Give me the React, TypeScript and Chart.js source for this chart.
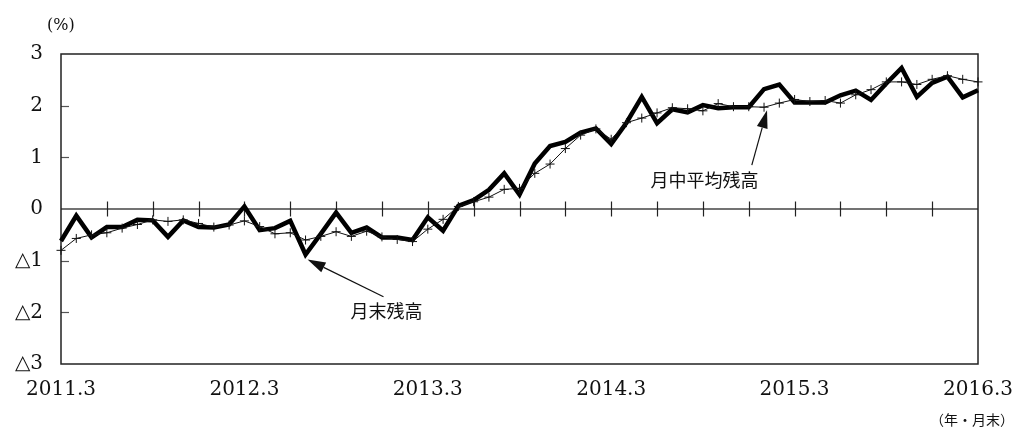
import React, { useEffect, useRef } from "react";
import Chart from "chart.js/auto";

// x categories: month ends from 2011.3 to 2016.3
const startYear = 2011;
const startMonth = 3;
const monthCount = 61;
const categories: string[] = [];
for (let i = 0; i < monthCount; i++) {
  const m = startMonth - 1 + i;
  categories.push(`${startYear + Math.floor(m / 12)}.${(m % 12) + 1}`);
}

const yearTickLabels = ["2011.3", "2012.3", "2013.3", "2014.3", "2015.3", "2016.3"];
const yTickValues = [-3, -2, -1, 0, 1, 2, 3];

// 月末残高 (thick line)
const endBalance = [
  -0.62, -0.13, -0.55, -0.35, -0.35, -0.21, -0.22, -0.54, -0.22, -0.35,
  -0.36, -0.3, 0.05, -0.41, -0.37, -0.23, -0.88, -0.48, -0.07, -0.46,
  -0.36, -0.55, -0.55, -0.6, -0.16, -0.42, 0.06, 0.17, 0.37, 0.69,
  0.28, 0.88, 1.22, 1.3, 1.48, 1.56, 1.26, 1.67, 2.17, 1.66,
  1.93, 1.87, 2.01, 1.95, 1.97, 1.97, 2.32, 2.41, 2.06, 2.06,
  2.06, 2.2, 2.29, 2.11, 2.43, 2.73, 2.17, 2.44, 2.56, 2.16,
  2.3,
];

// 月中平均残高 (thin line with + markers)
const avgBalance = [
  -0.8, -0.57, -0.5, -0.46, -0.37, -0.3, -0.21, -0.24, -0.21, -0.28,
  -0.35, -0.31, -0.23, -0.34, -0.48, -0.46, -0.6, -0.53, -0.44, -0.53,
  -0.43, -0.54, -0.59, -0.63, -0.39, -0.2, 0.05, 0.14, 0.23, 0.38,
  0.4, 0.69, 0.87, 1.17, 1.43, 1.55, 1.35, 1.67, 1.76, 1.86,
  1.96, 1.94, 1.9, 2.04, 1.98, 1.98, 1.97, 2.05, 2.12, 2.08,
  2.1, 2.05, 2.21, 2.31, 2.46, 2.46, 2.41, 2.51, 2.58, 2.51,
  2.46,
];

// annotations: text position and arrow tail in data coordinates, arrow tip at a data point
const annotations = [
  { text: "月中平均残高", tx: 42.1, ty: 0.56, ax: 45.2, ay: 0.85, idx: 46, series: "avg", dx: 3, dy: 3 },
  { text: "月末残高", tx: 21.3, ty: -1.97, ax: 21.1, ay: -1.7, idx: 16, series: "end", dx: 2, dy: 5 },
];

const SERIF = '"DejaVu Serif", "Liberation Serif", "Noto Sans CJK JP", serif';
const JP = '"Noto Sans CJK JP", "DejaVu Serif", serif';

const framePlugin = {
  id: "framePlugin",
  beforeDatasetsDraw(chart: any) {
    const { ctx, chartArea } = chart;
    const xs = chart.scales.x;
    const ys = chart.scales.y;
    const y0 = ys.getPixelForValue(0);
    ctx.save();
    // zero line
    ctx.strokeStyle = "#444";
    ctx.lineWidth = 1.3;
    ctx.beginPath();
    ctx.moveTo(chartArea.left, y0);
    ctx.lineTo(chartArea.right, y0);
    ctx.stroke();
    // quarterly ticks crossing zero line
    ctx.strokeStyle = "#222";
    ctx.lineWidth = 1.2;
    for (let i = 3; i < categories.length - 1; i += 3) {
      const x = Math.round(xs.getPixelForValue(i)) + 0.5;
      ctx.beginPath();
      ctx.moveTo(x, y0 - 7.5);
      ctx.lineTo(x, y0 + 7.5);
      ctx.stroke();
    }
    // inward y ticks
    ctx.strokeStyle = "#555";
    for (const v of yTickValues) {
      if (v === 0 || v === 3 || v === -3) continue;
      const y = Math.round(ys.getPixelForValue(v)) + 0.5;
      ctx.beginPath();
      ctx.moveTo(chartArea.left, y);
      ctx.lineTo(chartArea.left + 8, y);
      ctx.stroke();
    }
    // frame
    ctx.strokeStyle = "#222";
    ctx.lineWidth = 1.5;
    ctx.strokeRect(chartArea.left, chartArea.top, chartArea.right - chartArea.left, chartArea.bottom - chartArea.top);
    ctx.restore();
  },
  afterDraw(chart: any) {
    const { ctx, chartArea } = chart;
    const xs = chart.scales.x;
    const ys = chart.scales.y;
    ctx.save();
    ctx.fillStyle = "#111";
    ctx.strokeStyle = "#111";
    // unit labels
    ctx.font = `16px ${SERIF}`;
    ctx.textBaseline = "middle";
    ctx.textAlign = "left";
    ctx.fillText("(%)", chartArea.left - 14, chartArea.top - 28);
    ctx.font = `14px ${JP}`;
    ctx.textAlign = "right";
    ctx.fillText("（年・月末）", chart.width - 1, chartArea.bottom + 56);
    // annotations
    for (const a of annotations) {
      const tx = xs.getPixelForValue(a.tx);
      const ty = ys.getPixelForValue(a.ty);
      ctx.font = `18px ${JP}`;
      ctx.textAlign = "center";
      ctx.textBaseline = "middle";
      ctx.fillText(a.text, tx, ty);
      const data = a.series === "avg" ? avgBalance : endBalance;
      const px = xs.getPixelForValue(a.idx) + a.dx;
      const py = ys.getPixelForValue(data[a.idx]) + a.dy;
      const sx = xs.getPixelForValue(a.ax);
      const sy = ys.getPixelForValue(a.ay);
      const ang = Math.atan2(py - sy, px - sx);
      const headLen = 18;
      const headW = 5.5;
      const bx = px - headLen * Math.cos(ang);
      const by = py - headLen * Math.sin(ang);
      ctx.lineWidth = 1.2;
      ctx.beginPath();
      ctx.moveTo(sx, sy);
      ctx.lineTo(bx, by);
      ctx.stroke();
      ctx.beginPath();
      ctx.moveTo(px, py);
      ctx.lineTo(bx + headW * Math.sin(ang), by - headW * Math.cos(ang));
      ctx.lineTo(bx - headW * Math.sin(ang), by + headW * Math.cos(ang));
      ctx.closePath();
      ctx.fill();
    }
    ctx.restore();
  },
};

export default function App() {
  const canvasRef = useRef<HTMLCanvasElement | null>(null);

  useEffect(() => {
    if (!canvasRef.current) return;
    const chart = new Chart(canvasRef.current, {
      type: "line",
      data: {
        labels: categories,
        datasets: [
          {
            label: "月中平均残高",
            data: avgBalance,
            borderColor: "#111",
            borderWidth: 1,
            pointStyle: "cross",
            pointRadius: 4.5,
            pointBorderWidth: 1,
            pointBorderColor: "#111",
            pointBackgroundColor: "#111",
            tension: 0,
          },
          {
            label: "月末残高",
            data: endBalance,
            borderColor: "#000",
            borderWidth: 4.5,
            borderJoinStyle: "miter",
            pointRadius: 0,
            tension: 0,
          },
        ],
      },
      options: {
        animation: false,
        responsive: true,
        maintainAspectRatio: false,
        layout: { padding: { top: 54, right: 37, bottom: 0, left: 0 } },
        plugins: { legend: { display: false }, tooltip: { enabled: false } },
        scales: {
          x: {
            type: "category",
            grid: { display: false, drawTicks: false },
            border: { display: false },
            ticks: {
              autoSkip: false,
              maxRotation: 0,
              minRotation: 0,
              padding: 14,
              color: "#111",
              font: { family: SERIF, size: 20 },
              callback: (_v: any, i: number) => (i % 12 === 0 ? yearTickLabels[i / 12] : ""),
            },
            afterFit: (s: any) => {
              s.height = 68;
              s.paddingLeft = 0;
              s.paddingRight = 0;
            },
          },
          y: {
            min: -3,
            max: 3,
            grid: { display: false, drawTicks: false },
            border: { display: false },
            ticks: {
              stepSize: 1,
              padding: 18,
              color: "#111",
              font: { family: SERIF, size: 20 },
              callback: (v: any) => (Number(v) < 0 ? "△" + String(-Number(v)) : String(v)),
            },
            afterFit: (s: any) => {
              s.width = 61;
              s.paddingTop = 0;
              s.paddingBottom = 0;
            },
          },
        },
      },
      plugins: [framePlugin],
    });
    return () => chart.destroy();
  }, []);

  return (
    <div style={{ position: "absolute", left: 0, top: 0, width: 1015, height: 432, background: "#fff" }}>
      <canvas ref={canvasRef} />
    </div>
  );
}
